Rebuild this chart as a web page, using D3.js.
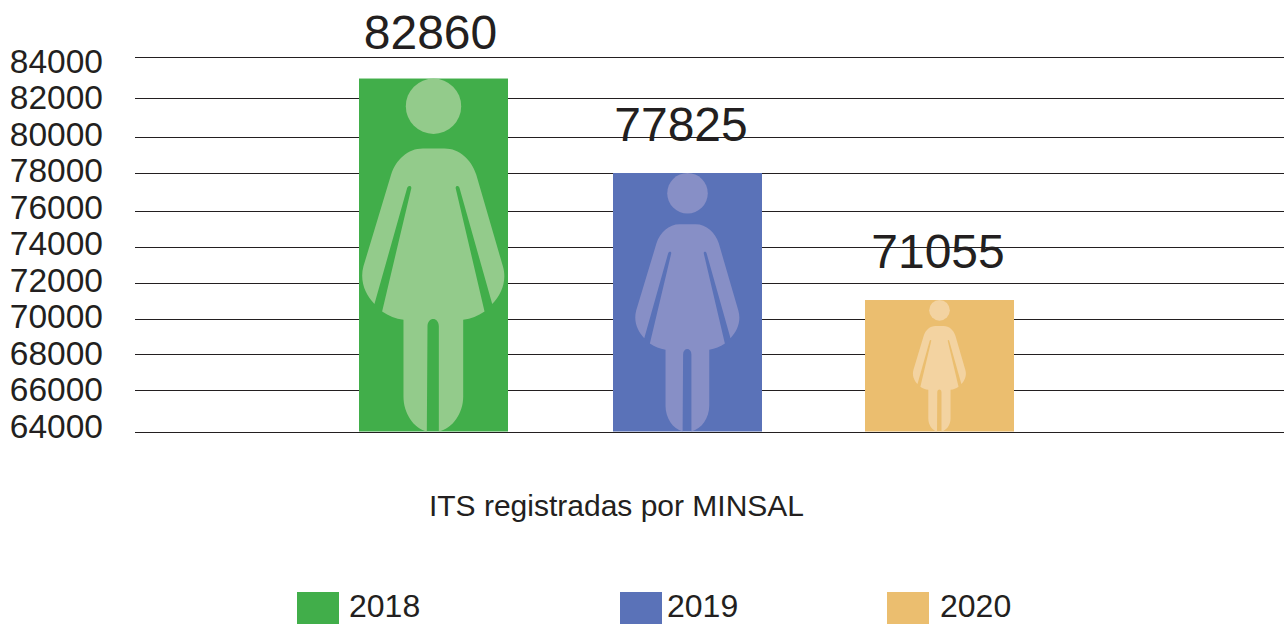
<!DOCTYPE html>
<html>
<head>
<meta charset="utf-8">
<script src="https://cdn.jsdelivr.net/npm/d3@7"></script>
<style>
  html, body { margin: 0; background: #fff; overflow: hidden; }
  svg { display: block; }
  text { font-family: "Liberation Sans", Arial, sans-serif; fill: #231f20; }
</style>
</head>
<body>
<div id="visualization"></div>
<script>
const years = ["2018", "2019", "2020"];
const totals = [82860, 77825, 71055];
// bar heights as drawn in the picture, they sit a little off the printed totals
const barValues = [82950, 78000, 71055];
const colours = ["#41ae4a", "#5a72b8", "#ebbe6f"];
const figureColours = ["#93cb8b", "#878fc6", "#f3d3a1"];
const tickValues = [64000, 66000, 68000, 70000, 72000, 74000, 76000, 78000, 80000, 82000, 84000];
// the gridlines in the original are not evenly spaced
const gridPixels = [432, 390, 354, 319, 283, 247, 211, 173, 137, 98, 57];
const title = "ITS registradas por MINSAL";

const width = 1284;
const height = 624;
const barWidth = 149;

const svg = d3.select("#visualization").append("svg")
  .attr("width", width)
  .attr("height", height)
  .attr("viewBox", [0, 0, width, height]);

const y = d3.scaleLinear().domain(tickValues).range(gridPixels);
const labelY = d3.scaleLinear().domain([64000, 84000]).range([426.5, 61.5]);
// bars, value labels and legend items are placed by hand in the original
const x = d3.scaleOrdinal().domain(years).range([359, 613, 865]);
const valueX = d3.scaleOrdinal().domain(years).range([430.5, 681, 938]);
const valueY = d3.scaleOrdinal().domain(years).range([49, 141, 268]);
const legendX = d3.scaleOrdinal().domain(years).range([297, 620, 887]);
const legendTextX = d3.scaleOrdinal().domain(years).range([349, 667, 940]);

const barBottom = y(64000) - 0.5;

// gridlines
const grid = svg.append("g")
  .attr("transform", "translate(135,0)")
  .call(d3.axisRight(y).tickValues(tickValues).tickSize(width - 135).tickFormat(""));
grid.select(".domain").remove();
grid.selectAll("line").attr("stroke", "#231f20").attr("stroke-width", 1.2);

// tick labels
const axis = svg.append("g")
  .attr("transform", "translate(103,0)")
  .call(d3.axisLeft(labelY).tickValues(tickValues).tickSize(0).tickPadding(0).tickFormat(d3.format("d")));
axis.select(".domain").remove();
axis.selectAll("text").attr("font-size", 33.5).style("font-family", null);

// bars
const rows = years.map((year, i) => ({
  year,
  total: totals[i],
  value: barValues[i],
  colour: colours[i],
  figure: figureColours[i]
}));

svg.append("g").selectAll("rect")
  .data(rows)
  .join("rect")
  .attr("x", d => x(d.year))
  .attr("y", d => y(d.value))
  .attr("width", barWidth)
  .attr("height", d => barBottom - y(d.value))
  .attr("fill", d => d.colour);

// woman pictogram, drawn in a box 1058 units tall and scaled to the bar
const figureBody = "M250,267 L315,267 C360,267 395,300 410,345 L490,620 C503,665 485,705 458,733 L360,385 C357,376 346,378 349,388 L435,755 C415,769 395,776 371,780 L371,1010 C371,1060 340,1105 298,1115 L298,800 C298,770 264,770 264,800 L262,1115 C222,1105 192,1060 192,1010 L192,780 C168,776 148,769 128,755 L215,388 C218,378 207,376 203,385 L105,733 C78,705 60,665 72,620 L155,345 C170,300 205,267 250,267 Z";

const figures = svg.append("g").selectAll("g")
  .data(rows)
  .join("g")
  .attr("transform", d => {
    const h = barBottom - y(d.value);
    return `translate(${x(d.year) + barWidth / 2},${y(d.value)}) scale(${h / 1058}) translate(-282,-57)`;
  })
  .attr("fill", d => d.figure);

figures.append("circle").attr("cx", 282).attr("cy", 140).attr("r", 83);
figures.append("path").attr("d", figureBody);

// value labels
svg.append("g").selectAll("text")
  .data(rows)
  .join("text")
  .attr("x", d => valueX(d.year))
  .attr("y", d => valueY(d.year))
  .attr("text-anchor", "middle")
  .attr("font-size", 48)
  .text(d => d.total);

svg.append("text")
  .attr("x", 616.5)
  .attr("y", 516)
  .attr("text-anchor", "middle")
  .attr("font-size", 30)
  .text(title);

// legend
const legend = svg.append("g").selectAll("g")
  .data(rows)
  .join("g");

legend.append("rect")
  .attr("x", d => legendX(d.year))
  .attr("y", 592)
  .attr("width", 42)
  .attr("height", 32)
  .attr("fill", d => d.colour);

legend.append("text")
  .attr("x", d => legendTextX(d.year))
  .attr("y", 617)
  .attr("font-size", 32)
  .text(d => d.year);
</script>
</body>
</html>
